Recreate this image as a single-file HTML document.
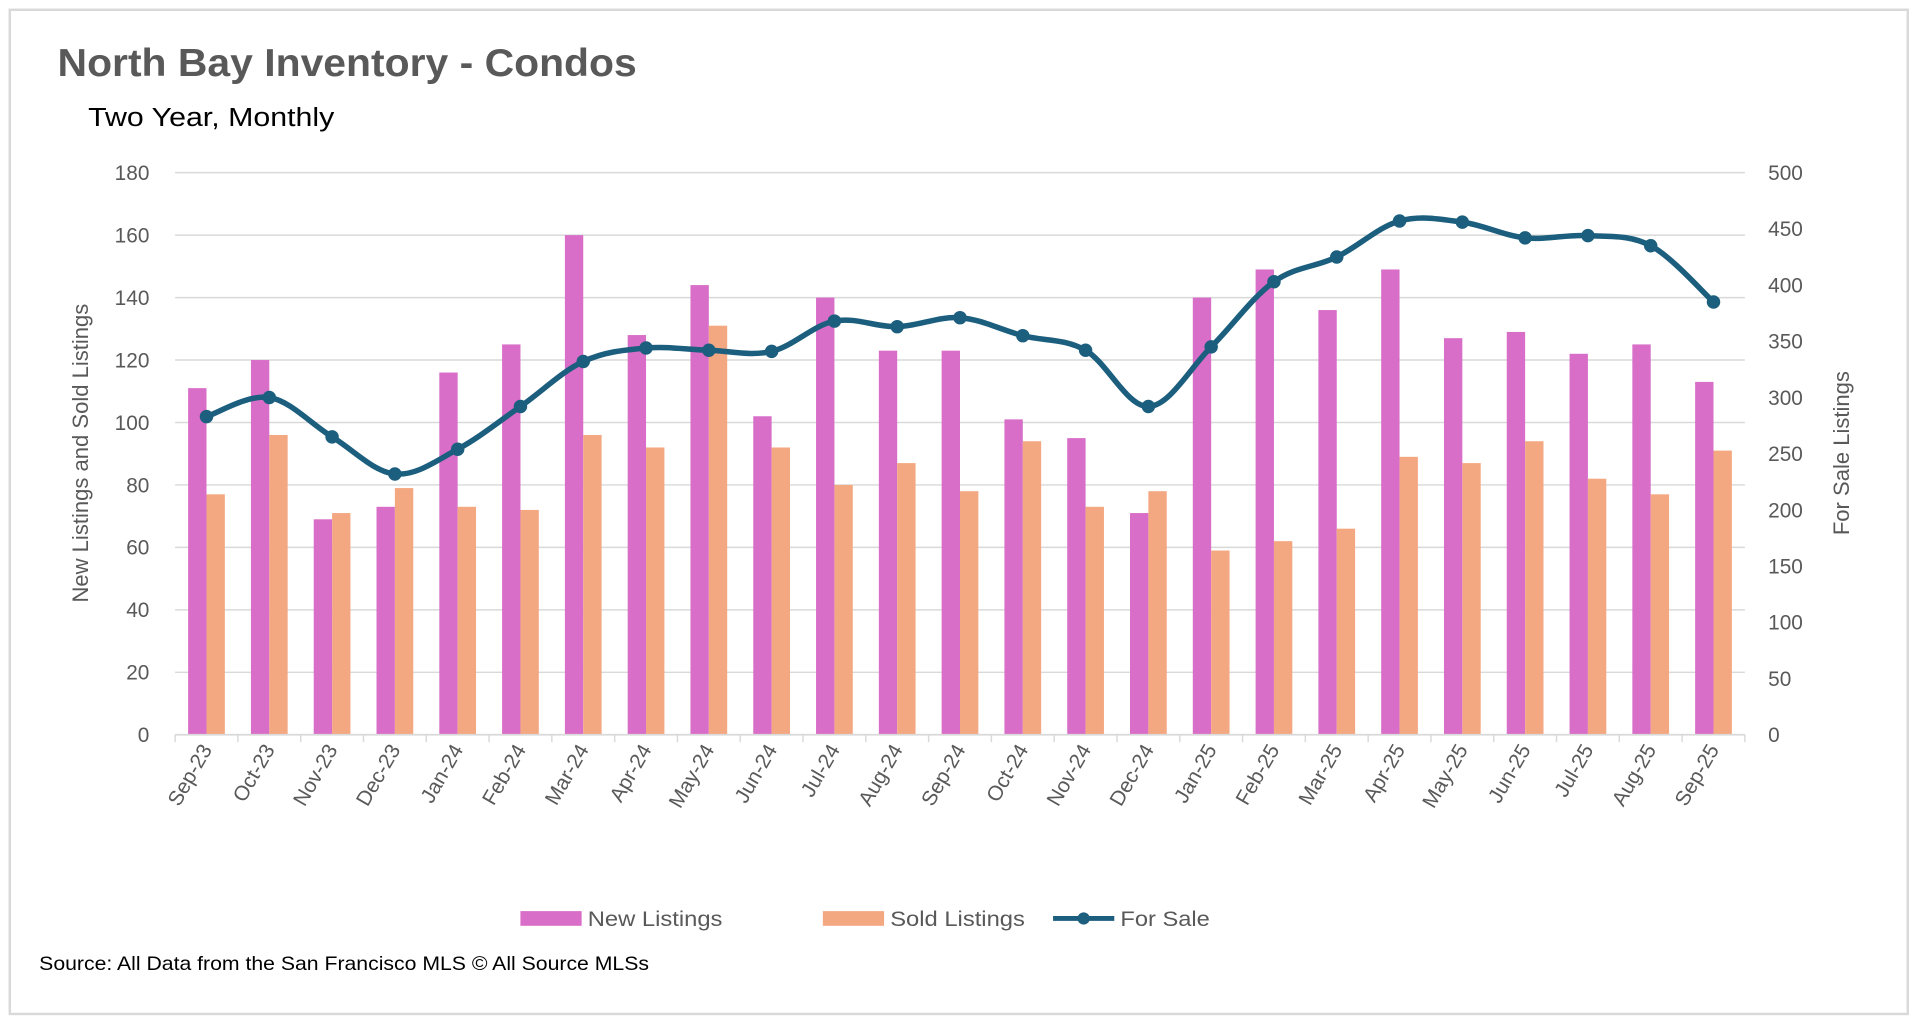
<!DOCTYPE html>
<html><head><meta charset="utf-8"><style>
html,body{margin:0;padding:0;background:#fff;width:1920px;height:1025px;overflow:hidden}
svg{display:block}
text{font-family:"Liberation Sans",sans-serif}
</style></head><body>
<svg id="chart" width="1920" height="1025" viewBox="0 0 1568 837" preserveAspectRatio="none" xmlns="http://www.w3.org/2000/svg">
<rect x="8" y="8" width="1550" height="820" fill="#fff" stroke="#d9d9d9" stroke-width="2"/>
<text x="47" y="62" font-size="32" font-weight="bold" fill="#595959" textLength="473" lengthAdjust="spacingAndGlyphs">North Bay Inventory - Condos</text>
<text x="72" y="103" font-size="21" fill="#000" textLength="201" lengthAdjust="spacingAndGlyphs">Two Year, Monthly</text>
<g id="grid"></g><g id="bars"></g><g id="line"></g><g id="axes"></g>
<text transform="translate(72,370) rotate(-90)" text-anchor="middle" font-size="18" fill="#595959">New Listings and Sold Listings</text>
<text transform="translate(1510,370) rotate(-90)" text-anchor="middle" font-size="18" fill="#595959">For Sale Listings</text>
<g>
<rect x="425" y="744" width="50" height="12" fill="#d86ec8"/>
<text x="480" y="756" font-size="17" fill="#595959" textLength="110" lengthAdjust="spacingAndGlyphs">New Listings</text>
<rect x="672" y="744" width="50" height="12" fill="#f4a882"/>
<text x="727" y="756" font-size="17" fill="#595959" textLength="110" lengthAdjust="spacingAndGlyphs">Sold Listings</text>
<line x1="860" y1="750" x2="910" y2="750" stroke="#1b5e7e" stroke-width="4"/>
<circle cx="885" cy="750" r="5" fill="#1b5e7e"/>
<text x="915" y="756" font-size="17" fill="#595959" textLength="73" lengthAdjust="spacingAndGlyphs">For Sale</text>
</g>
<text x="32" y="792" font-size="16" fill="#000" textLength="498" lengthAdjust="spacingAndGlyphs">Source: All Data from the San Francisco MLS © All Source MLSs</text>
</svg>
<script>
const categories=["Sep-23","Oct-23","Nov-23","Dec-23","Jan-24","Feb-24","Mar-24","Apr-24","May-24","Jun-24","Jul-24","Aug-24","Sep-24","Oct-24","Nov-24","Dec-24","Jan-25","Feb-25","Mar-25","Apr-25","May-25","Jun-25","Jul-25","Aug-25","Sep-25"];
const newListings=[111,120,69,73,116,125,160,128,144,102,140,123,123,101,95,71,140,149,136,149,127,129,122,125,113];
const soldListings=[77,96,71,79,73,72,96,92,131,92,80,87,78,94,73,78,59,62,66,89,87,94,82,77,91];
const forSale=[283,300,265,232,254,292,332,344,342,341,368,363,371,355,342,292,345,403,425,457,456,442,444,435,385];
const leftTicks=[0,20,40,60,80,100,120,140,160,180];
const rightTicks=[0,50,100,150,200,250,300,350,400,450,500];
const NS="http://www.w3.org/2000/svg";
const X0=143,X1=1425,Y0=600,Y1=141;
const bw=(X1-X0)/categories.length;
const xc=i=>X0+bw*(i+0.5);
const yL=v=>Y0-(v/180)*(Y0-Y1);
const yR=v=>Y0-(v/500)*(Y0-Y1);
function mk(tag,attrs,parent,txt){const e=document.createElementNS(NS,tag);for(const k in attrs)e.setAttribute(k,attrs[k]);if(txt!==undefined)e.textContent=txt;document.getElementById(parent).appendChild(e);return e;}
leftTicks.forEach(t=>{
  const g=mk('line',{x1:X0,x2:X1,y1:yL(t),y2:yL(t),stroke:'#d9d9d9','stroke-width':1.2},'grid');
  
  
  const l=mk('text',{x:122,y:yL(t)+6,'text-anchor':'end','font-size':17,fill:'#595959'},'axes',t);
  
  
});
rightTicks.forEach(t=>{
  const l=mk('text',{x:1444,y:yR(t)+6,'font-size':17,fill:'#595959'},'axes',t);
  
  
});
for(let i=0;i<=categories.length;i++){
  const tk=mk('line',{x1:X0+bw*i,x2:X0+bw*i,y1:Y0,y2:Y0+6,stroke:'#d9d9d9','stroke-width':1.2},'axes');
  
  
}
categories.forEach((c,i)=>{
  const x=xc(i);
  const b1=mk('rect',{x:x-15,y:yL(newListings[i]),width:15,height:Y0-yL(newListings[i]),fill:'#d86ec8'},'bars');
  
  
  const b2=mk('rect',{x:x,y:yL(soldListings[i]),width:15,height:Y0-yL(soldListings[i]),fill:'#f4a882'},'bars');
  
  
  const l=mk('text',{transform:`translate(${x+5},${Y0+12}) rotate(-60)`,'text-anchor':'end','font-size':17,fill:'#595959'},'axes',c);
  
  
});
const ax=mk('line',{x1:X0,x2:X1,y1:Y0,y2:Y0,stroke:'#d9d9d9','stroke-width':1.5},'axes');


const pts=forSale.map((v,i)=>[xc(i),yR(v)]);
let d=`M${pts[0][0]},${pts[0][1]}`;
for(let i=0;i<pts.length-1;i++){
  const p0=pts[Math.max(0,i-1)],p1=pts[i],p2=pts[i+1],p3=pts[Math.min(pts.length-1,i+2)];
  const t=0.34;
  const c1=[p1[0]+(p2[0]-p0[0])*t/2,p1[1]+(p2[1]-p0[1])*t/2];
  const c2=[p2[0]-(p3[0]-p1[0])*t/2,p2[1]-(p3[1]-p1[1])*t/2];
  d+=` C${c1[0]},${c1[1]} ${c2[0]},${c2[1]} ${p2[0]},${p2[1]}`;
}
const ln=mk('path',{d:d,fill:'none',stroke:'#1b5e7e','stroke-width':4.5,'stroke-linejoin':'round'},'line');


pts.forEach(p=>{
  const m=mk('circle',{cx:p[0],cy:p[1],r:5.5,fill:'#1b5e7e'},'line');
  
  
});
</script>
</body></html>
